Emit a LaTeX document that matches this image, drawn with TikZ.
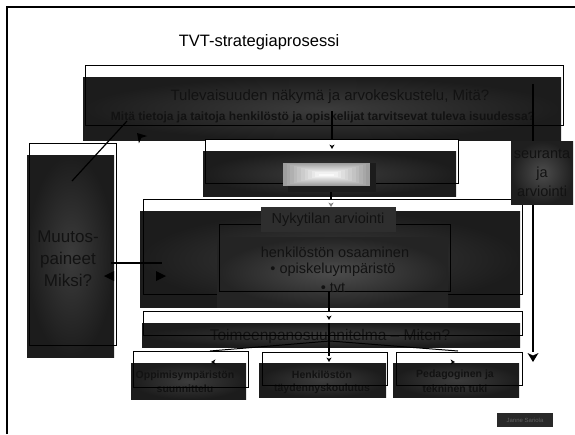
\documentclass[tikz,border=0pt]{standalone}
\usepackage{fontspec}
\setmainfont{Liberation Sans}
\usetikzlibrary{arrows.meta}
\definecolor{txt}{HTML}{121212}
\definecolor{dk}{HTML}{1C1C1C}
\definecolor{dkin}{HTML}{3C3C3C}
\begin{document}
\begin{tikzpicture}[x=1pt,y=-1pt,
  whitebox/.style={fill=white, draw=none, anchor=north west, inner sep=0},
  outline/.style={draw=black, line width=1.3pt, fill=none, anchor=north west, inner sep=0},
  darkbox/.style={shading=radial, inner color=dkin, outer color=dk, draw=none, anchor=north west, inner sep=0},
  lbl/.style={text=txt, inner sep=0, font=\fontsize{14.5}{17}\selectfont},
  bigl/.style={text=txt, inner sep=0, align=center, font=\fontsize{17}{22}\selectfont},
  smallb/.style={text=txt, inner sep=0, font=\fontsize{10.5}{13}\selectfont\bfseries},
  conn/.style={draw=black, line width=1.2pt},
  arrowtip/.pic={\fill[black] (0,0) -- (-2.6,-4.5) -- (0,-3.2) -- (2.6,-4.5) -- cycle;},
  bigtip/.pic={\fill[black] (0,0) -- (-5.5,-9) -- (0,-6.5) -- (5.5,-9) -- cycle;},
  flattip/.pic={\fill[black] (0,0) -- (-5,-10) -- (5,-10) -- cycle;}
]
\useasboundingbox (0,0) rectangle (575,434);
\fill[white] (0,0) rectangle (575,434);

% outer frame
\coordinate (fb) at (7,434);
\coordinate (fc) at (7,7);
\coordinate (fr) at (575,7);
\draw[line width=1.6pt] (fb) -- (fc) -- (fr);

% title
\node[text=black, inner sep=0, font=\fontsize{16.5}{19}\selectfont] (title) at (259,42) {TVT-strategiaprosessi};

% ---------- right vertical line (behind seuranta box)
\coordinate (rtop) at (533,84);
\coordinate (rbot) at (533,352);

% ---------- top block
\node[whitebox, minimum width=478pt, minimum height=60pt] (topw) at (85,65) {};
\node[darkbox, minimum width=478pt, minimum height=63pt] (topd) at (83,77) {};
\node[outline, minimum width=478pt, minimum height=60pt] (topf) at (85,65) {};
\node[lbl, font=\fontsize{15}{18}\selectfont] (t1) at (330,97) {Tulevaisuuden näkymä ja arvokeskustelu, Mitä?};
\node[text=txt, inner sep=0, font=\fontsize{12}{14}\selectfont\bfseries] (t2) at (323,117) {Mitä tietoja ja taitoja henkilöstö ja opiskelijat tarvitsevat tuleva isuudessa?};
\draw[conn] (rtop) -- (rbot);
\pic at (533,362) {bigtip};

% ---------- left block Muutospaineet
\node[whitebox, minimum width=87pt, minimum height=202pt] (lw) at (29,143) {};
\node[darkbox, minimum width=87pt, minimum height=202pt] (ld) at (27,155) {};
\node[outline, minimum width=87pt, minimum height=202pt] (lf) at (29,143) {};
\node[bigl] (muutos) at (68,259) {Muutos-\\paineet\\Miksi?};

% ---------- light block
\node[whitebox, minimum width=253pt, minimum height=44pt] (mw) at (205,139) {};
\node[darkbox, minimum width=253pt, minimum height=45pt] (md) at (203,151) {};
\node[outline, minimum width=253pt, minimum height=44pt] (mf) at (205,139) {};
\node[fill=dk, anchor=north west, inner sep=0, minimum width=88pt, minimum height=29pt] (lsh) at (288,163) {};
\node[fill=black!38, anchor=north west, inner sep=0, minimum width=87pt, minimum height=23pt] (light) at (283,163) {};
\foreach \i in {1,...,10} {
  \pgfmathsetmacro{\shade}{38-3.6*\i}
  \fill[black!\shade] (283+3.6*\i,163+1.05*\i) rectangle (370-3.6*\i,186-1.05*\i);
}

% ---------- Nykytilan block
\node[whitebox, minimum width=379pt, minimum height=95pt] (nw) at (143,199) {};
\node[darkbox, minimum width=380pt, minimum height=96pt] (nd) at (140,211) {};
\node[outline, minimum width=379pt, minimum height=95pt] (nf) at (143,199) {};
\node[shading=radial, inner color=black!70, outer color=black!86, anchor=north west, inner sep=0, minimum width=231pt, minimum height=70pt] (nin) at (217,237) {};
\node[outline, minimum width=231pt, minimum height=67pt] (ninf) at (219,224) {};
\node[fill=black!82, anchor=north west, inner sep=0, minimum width=135pt, minimum height=25pt] (ntb) at (261,207) {};
\node[lbl] (ntitle) at (328,220) {Nykytilan arviointi};
\node[lbl] (n1) at (335,252) {henkilöstön osaaminen};
\node[lbl] (n2) at (333,270) {• opiskeluympäristö};
\node[lbl] (n3) at (333,288) {• tvt};

% ---------- Toimeenpano block
\node[whitebox, minimum width=379pt, minimum height=24pt] (tw) at (143,311) {};
\node[darkbox, minimum width=378pt, minimum height=24pt] (td) at (142,323) {};
\node[lbl, font=\fontsize{15.5}{18}\selectfont] (ttext) at (330,336) {Toimeenpanosuunnitelma – Miten?};
\node[outline, minimum width=379pt, minimum height=24pt] (tf) at (143,311) {};

% ---------- bottom boxes
\node[whitebox, minimum width=115pt, minimum height=36pt] (b1w) at (133,351) {};
\node[darkbox, minimum width=115pt, minimum height=36pt] (b1d) at (131,363) {};
\node[smallb] (b1a) at (185,376) {Oppimisympäristön};
\node[smallb] (b1b) at (185,389) {suunnittelu};
\node[outline, minimum width=115pt, minimum height=36pt] (b1f) at (133,351) {};

\node[whitebox, minimum width=125pt, minimum height=33pt] (b2w) at (262,352) {};
\node[darkbox, minimum width=127pt, minimum height=34pt] (b2d) at (259,363) {};
\node[smallb] (b2a) at (322,375) {Henkilöstön};
\node[smallb] (b2b) at (322,389) {täydennyskoulutus};
\node[outline, minimum width=125pt, minimum height=33pt] (b2f) at (262,352) {};

\node[whitebox, minimum width=126pt, minimum height=33pt] (b3w) at (396,352) {};
\node[darkbox, minimum width=126pt, minimum height=34pt] (b3d) at (393,363) {};
\node[smallb] (b3a) at (455,375) {Pedagoginen ja};
\node[smallb] (b3b) at (455,389) {tekninen tuki};
\node[outline, minimum width=126pt, minimum height=33pt] (b3f) at (396,352) {};

% ---------- connectors
% top -> light block
\coordinate (c1a) at (332,111);
\draw[conn] (c1a) -- (mf.north -| c1a);
\pic at (332,149) {arrowtip};
% light block -> Nykytilan
\coordinate (c2a) at (331,192);
\draw[conn] (c2a) -- (nf.north -| c2a);
\pic[opacity=0.5] at (331,207) {arrowtip};
% Nykytilan -> Toimeenpano
\coordinate (c3a) at (329,291);
\draw[conn] (c3a) -- (tf.north -| c3a);
\pic at (329,320) {arrowtip};
% Toimeenpano -> bottom boxes
\coordinate (c4a) at (329,323);
\coordinate (c4b) at (329,356);
\coordinate (c4m) at (330,341);
\coordinate (c4l) at (210,351);
\coordinate (c4r) at (458,351);
\draw[conn] (c4a) -- (c4b);
\draw[line width=1pt] (c4m) -- (c4l);
\draw[line width=1pt] (c4m) -- (c4r);
\pic at (329,362) {arrowtip};
\pic[rotate=-90] at (211,362) {arrowtip};
\pic[rotate=90] at (455,362) {arrowtip};

% Muutospaineet <-> Nykytilan
\coordinate (h1) at (111,263);
\coordinate (h2) at (162,263);
\draw[conn] (h1) -- (h2);
\pic[rotate=-90] at (104,276) {flattip};
\pic[rotate=90] at (166,276) {flattip};

% Muutospaineet -> top block
\coordinate (d1) at (72,181);
\coordinate (d2) at (127,121);
\draw[conn] (d1) -- (d2);
\pic[rotate=-138] at (137,133) {bigtip};

% seuranta box over right line
\node[shading=radial, inner color=black!70, outer color=black!88, anchor=north west, inner sep=0, minimum width=62pt, minimum height=63pt] (seur) at (511,141) {};
\node[lbl, align=center, font=\fontsize{14.5}{19}\selectfont] (seurt) at (542,173) {seuranta\\ja\\arviointi};

% signature
\node[fill=black!84, text=black!62, inner sep=0, minimum width=56pt, minimum height=14pt, font=\fontsize{6}{7}\selectfont] (sig) at (525,420) {Janne Sariola};
\end{tikzpicture}
\end{document}
